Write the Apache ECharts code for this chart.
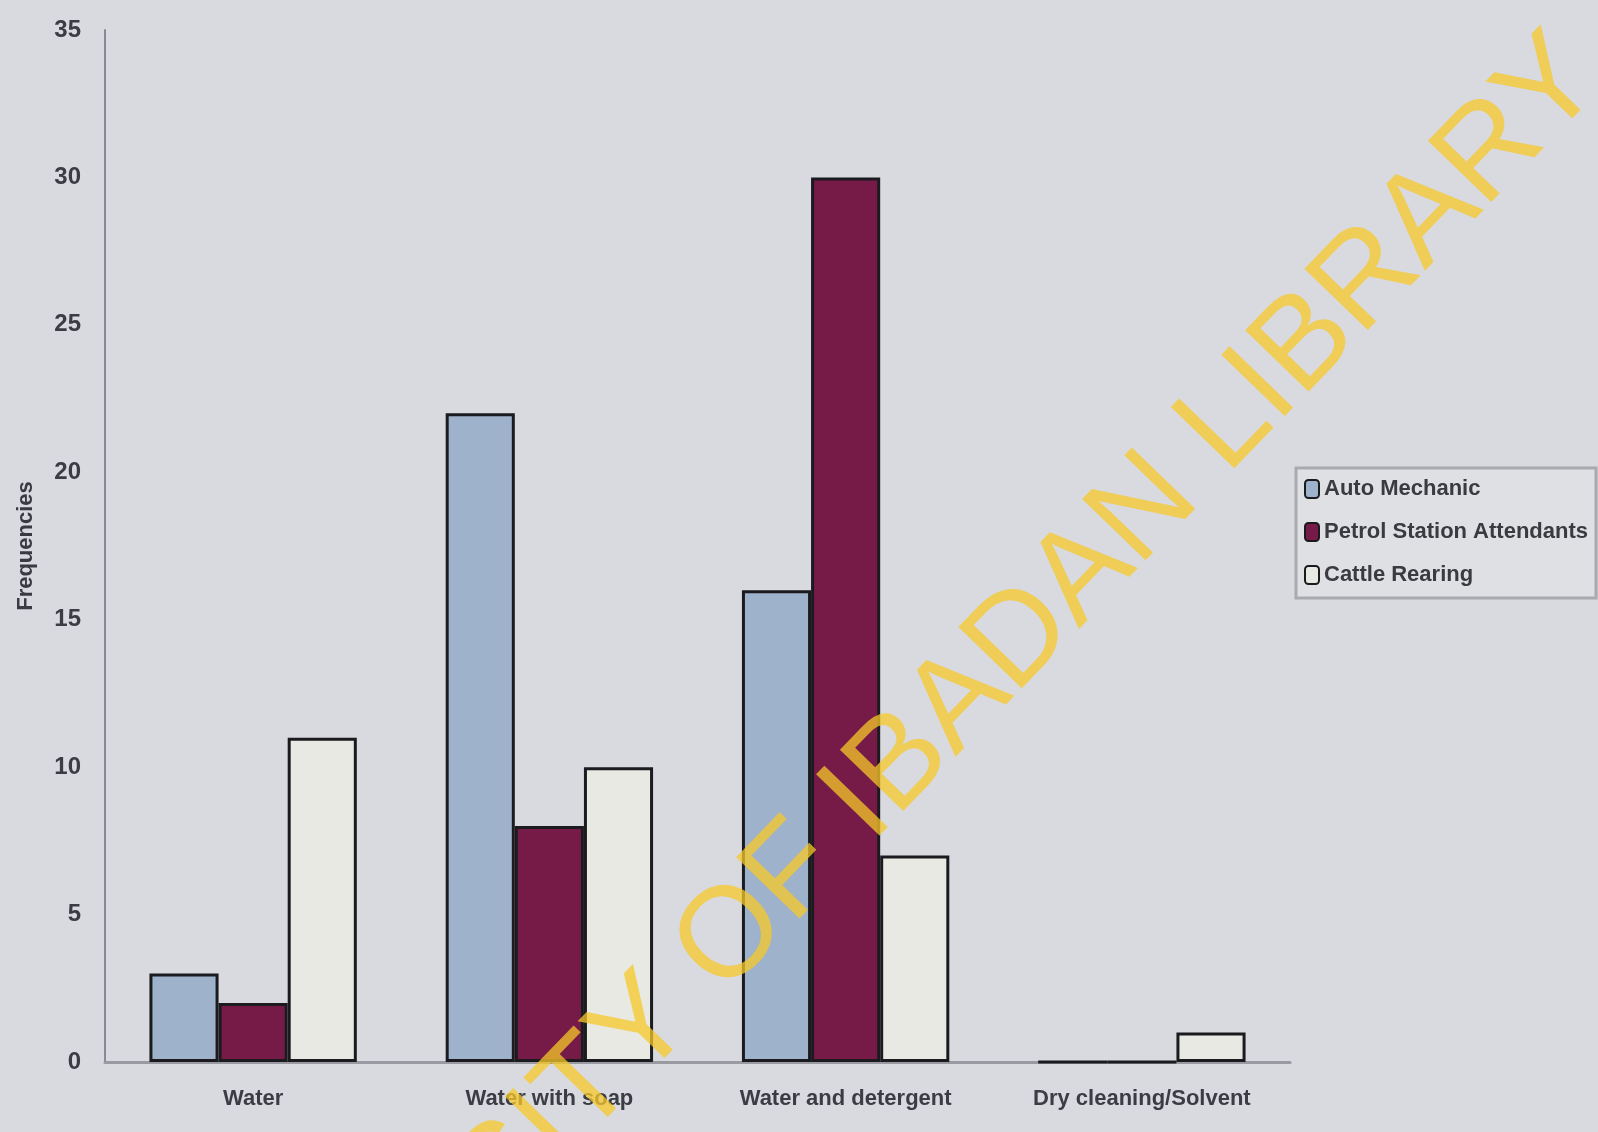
<!DOCTYPE html>
<html><head><meta charset="utf-8">
<script src="https://cdn.jsdelivr.net/npm/echarts@6/dist/echarts.min.js"></script>
<style>html,body{margin:0;padding:0;background:#d9dadf;}#c{width:1598px;height:1132px;}</style>
</head><body><div id="c"></div>
<script>
const categories = ["Water", "Water with soap", "Water and detergent", "Dry cleaning/Solvent"];
const autoMechanic = [3, 22, 16, 0];
const petrolStation = [2, 8, 30, 0];
const cattleRearing = [11, 10, 7, 1];
const seriesNames = ["Auto Mechanic", "Petrol Station Attendants", "Cattle Rearing"];
const yTicks = [0, 5, 10, 15, 20, 25, 30, 35];

const chart = echarts.init(document.getElementById('c'));
const barStyle = (c) => ({ color: c, borderColor: '#1b1b1f', borderWidth: 3 });
chart.setOption({
  backgroundColor: '#d9dadf',
  animation: false,
  grid: { left: 105, right: 308, top: 30, bottom: 70 },
  legend: {
    orient: 'vertical', left: 1296, top: 468,
    padding: [10, 8, 12, 8], itemGap: 21,
    borderColor: '#a9aab0', borderWidth: 3, backgroundColor: '#dfe0e4',
    itemWidth: 14, itemHeight: 18,
    textStyle: { color: '#3a3a40', fontSize: 22, fontWeight: 'bold', fontFamily: 'Liberation Sans' },
    data: seriesNames
  },
  xAxis: {
    type: 'category', data: categories,
    axisLine: { lineStyle: { color: '#9a9aa2', width: 3 } },
    axisTick: { show: false },
    axisLabel: { color: '#3c3c44', fontSize: 22, fontWeight: 'bold', margin: 26, fontFamily: 'Liberation Sans' }
  },
  yAxis: {
    type: 'value', min: 0, max: 35, interval: 5,
    name: 'Frequencies', nameLocation: 'middle', nameGap: 68, nameRotate: 90,
    nameTextStyle: { color: '#3a3a44', fontSize: 22, fontWeight: 'bold', fontFamily: 'Liberation Sans' },
    axisLine: { show: true, lineStyle: { color: '#8a8a92', width: 2 } },
    axisTick: { show: false },
    splitLine: { show: false },
    axisLabel: { color: '#3c3c44', fontSize: 24, fontWeight: 'bold', margin: 24, fontFamily: 'Liberation Sans',
      formatter: v => yTicks.includes(v) ? String(v) : '' }
  },
  series: [
    { name: seriesNames[0], type: 'bar', data: autoMechanic, barGap: '0%', barCategoryGap: '30%', itemStyle: barStyle('#9fb2cb') },
    { name: seriesNames[1], type: 'bar', data: petrolStation, itemStyle: barStyle('#761a48') },
    { name: seriesNames[2], type: 'bar', data: cattleRearing, itemStyle: barStyle('#e9e9e4') }
  ],
  graphic: [{
    type: 'text',
    rotation: Math.PI * 46 / 180,
    position: [860, 805],
    style: { text: 'UNIVERSITY OF IBADAN LIBRARY', fill: 'rgba(245,200,40,0.75)', font: '128px "Liberation Sans"', textAlign: 'center', textVerticalAlign: 'middle' },
    silent: true, z: 100
  }]
});
</script></body></html>
